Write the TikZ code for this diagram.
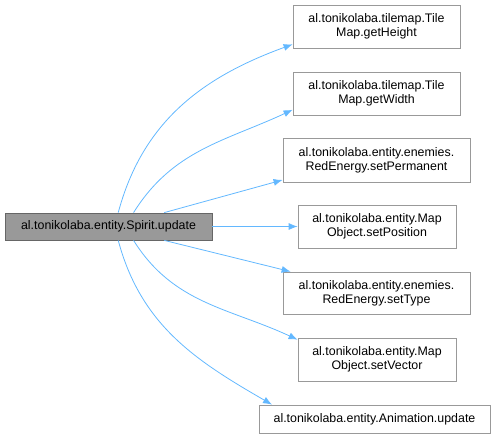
\documentclass[tikz,border=0pt]{standalone}
\usepackage{fontspec}
\setmainfont{Liberation Sans}
\usetikzlibrary{arrows.meta}
\definecolor{EdgeBlue}{RGB}{99,184,255}
\definecolor{BoxGray}{RGB}{153,153,153}
\definecolor{RimGray}{RGB}{102,102,102}

\begin{document}
\begin{tikzpicture}[x=1pt,y=-1pt,
  fn/.style={rectangle,draw=BoxGray,fill=white,line width=0.8pt,inner sep=1pt,align=center,font=\fontsize{12.4}{14}\selectfont},
  e/.style={-{Latex[length=9pt,width=7pt]},line width=0.8pt,EdgeBlue}
]
  \useasboundingbox (0,0) rectangle (499,437);
  \node[fn,fill=BoxGray,draw=RimGray,minimum width=207pt,minimum height=27pt] (src) at (108.5,226.5) {al.tonikolaba.entity.Spirit.update};
  \node[fn,minimum width=167pt,minimum height=43pt] (t1) at (376.5,26.5) {al.tonikolaba.tilemap.Tile\\Map.getHeight};
  \node[fn,minimum width=167pt,minimum height=43pt] (t2) at (376.5,93.5) {al.tonikolaba.tilemap.Tile\\Map.getWidth};
  \node[fn,minimum width=187pt,minimum height=44pt] (t3) at (376.5,160) {al.tonikolaba.entity.enemies.\\RedEnergy.setPermanent};
  \node[fn,minimum width=158pt,minimum height=43pt] (t4) at (377,226.5) {al.tonikolaba.entity.Map\\Object.setPosition};
  \node[fn,minimum width=187pt,minimum height=42pt] (t5) at (376.5,293) {al.tonikolaba.entity.enemies.\\RedEnergy.setType};
  \node[fn,minimum width=158pt,minimum height=43pt] (t6) at (377,359.5) {al.tonikolaba.entity.Map\\Object.setVector};
  \node[fn,minimum width=231pt,minimum height=28pt] (t7) at (374.5,419) {al.tonikolaba.entity.Animation.update};
  \draw[e] (src.55) to[out=75,in=200] (t1.192);
  \draw[e] (src.29) to[out=58,in=205] (t2.191);
  \draw[e] (src.14) -- (t3.192);
  \draw[e] (src.east) -- (t4.west);
  \draw[e] (src.-14) -- (t5.166);
  \draw[e] (src.-29) to[out=-58,in=155] (t6.166);
  \draw[e] (src.-55) to[out=-75,in=150] (t7.172);
\end{tikzpicture}
\end{document}
